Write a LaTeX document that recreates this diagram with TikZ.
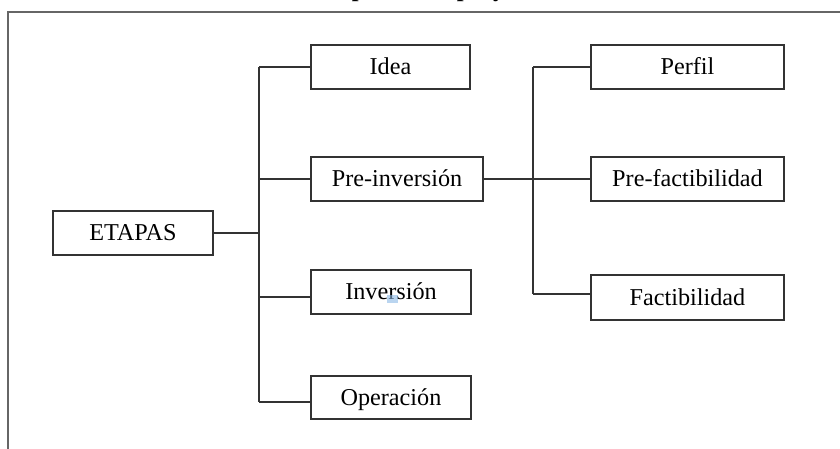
\documentclass[tikz,border=0pt]{standalone}
\usepackage{fontspec}
\setmainfont{Liberation Serif}
\begin{document}
\begin{tikzpicture}[x=0.75pt,y=-0.75pt,
  stagebox/.style={draw=black!80, line width=1.4pt, inner sep=0pt,
    minimum height=33pt, text height=12pt, text depth=0pt,
    font=\fontsize{18.15}{20}\selectfont},
  link/.style={draw=black!80, line width=1.1pt},
  framestyle/.style={draw=black!60, line width=1.6pt}]
\useasboundingbox (0,0) rectangle (840,449);
% title (cut off at the top)
\node[anchor=base west, inner sep=0pt, font=\fontsize{18.3}{20}\selectfont\bfseries] (title) at (315,-3) {Etapas de un proyecto};
% frame
\coordinate (fbl) at (8,452);
\coordinate (ftl) at (8,12);
\coordinate (ftr) at (842,12);
\draw[framestyle] (fbl) -- (ftl) -- (ftr);
% boxes
\node[stagebox, minimum width=120pt] (etapas) at (133,233) {ETAPAS};
\node[stagebox, minimum width=119.25pt] (idea) at (390.5,67) {Idea};
\node[stagebox, minimum width=129pt] (pre) at (397,179) {Pre-inversión};
\node[stagebox, minimum width=120pt] (inv) at (391,292) {Inversión};
\node[stagebox, minimum width=120pt, minimum height=32.25pt] (ope) at (391,397.5) {Operación};
\node[stagebox, minimum width=144.75pt] (perfil) at (687.5,67) {Perfil};
\node[stagebox, minimum width=144.75pt] (prefac) at (687.5,179) {Pre-factibilidad};
\node[stagebox, minimum width=144.75pt, minimum height=33.75pt] (fac) at (687.5,297.5) {Factibilidad};
% selection artifact
\fill[fill={rgb,255:red,140;green,185;blue,230}, opacity=0.6] (387,295) rectangle (398,303);
% trunks
\coordinate (t1top) at (259,67);
\coordinate (t1bot) at (259,402);
\coordinate (t2top) at (533,67);
\coordinate (t2bot) at (533,294);
\draw[link] (t1top) -- (t1bot);
\draw[link] (t2top) -- (t2bot);
% connectors
\draw[link] (etapas.east) -- (etapas.east -| t1top);
\draw[link] (t1top) -- (idea.west);
\draw[link] (pre.west -| t1top) -- (pre.west);
\draw[link] ([yshift=-3.75pt]inv.west -| t1top) -- ([yshift=-3.75pt]inv.west);
\draw[link] (t1bot) -- (t1bot -| ope.west);
\draw[link] (pre.east) -- (prefac.west);
\draw[link] (t2top) -- (perfil.west);
\draw[link] (t2bot) -- (t2bot -| fac.west);
\end{tikzpicture}
\end{document}
